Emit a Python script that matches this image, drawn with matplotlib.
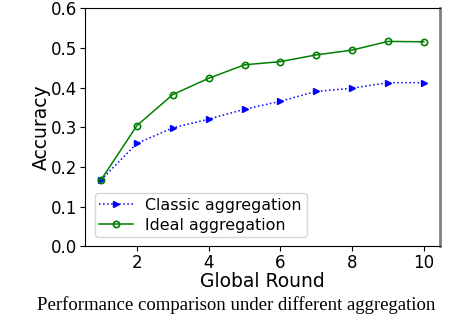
import matplotlib
matplotlib.use("Agg")
import matplotlib.pyplot as plt

rounds = [1, 2, 3, 4, 5, 6, 7, 8, 9, 10]
classic = [0.168, 0.260, 0.299, 0.321, 0.346, 0.366, 0.391, 0.399, 0.413, 0.413]
ideal = [0.168, 0.305, 0.383, 0.424, 0.458, 0.466, 0.483, 0.495, 0.517, 0.516]

fig = plt.figure(figsize=(4.72, 3.14), dpi=100)
ax = fig.add_axes([0.18, 0.215, 0.752, 0.758])

ax.plot(rounds, classic, color="blue", ls=":", marker=">", ms=4, lw=1.1,
        label="Classic aggregation")
ax.plot(rounds, ideal, color="green", ls="-", marker="o", ms=4.5, mfc="none",
        mew=1.2, lw=1.1, label="Ideal aggregation")

ax.set_ylim(0, 0.6)
ax.set_xticks([2, 4, 6, 8, 10])
ax.set_yticks([0.0, 0.1, 0.2, 0.3, 0.4, 0.5, 0.6])
ax.tick_params(labelsize=12, pad=2)
ax.set_xlabel("Global Round", fontsize=13.5, labelpad=0)
ax.set_ylabel("Accuracy", fontsize=13.5, labelpad=0)
ax.spines["right"].set_color("gray")
ax.spines["right"].set_linewidth(2)
ax.legend(loc="lower left", fontsize=11.4, handlelength=2.1, borderpad=0.3,
          labelspacing=0.3, bbox_to_anchor=(0.005, 0.005))

fig.text(0.5, 0.0, "Performance comparison under different aggregation",
         family="Liberation Serif", fontsize=13.5, ha="center", va="bottom")

fig.savefig("out.png", dpi=100)
